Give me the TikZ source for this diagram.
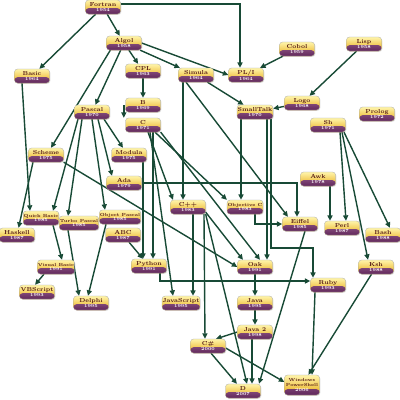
\documentclass[tikz,border=0pt]{standalone}
\usepackage{fontspec}
\usepackage{tikz}
\usetikzlibrary{
  arrows.meta,
  backgrounds,
  shadows
}
\definecolor{cream}{RGB}{255,244,170}
\definecolor{gold}{RGB}{232,172,24}
\definecolor{plum}{RGB}{122,48,112}
\definecolor{edgegreen}{RGB}{24,74,54}
\definecolor{namecol}{RGB}{82,24,20}
\newcommand{\yr}[1]{{\fontsize{4.5}{5}\selectfont\color{white}#1}}

\begin{document}
\begin{tikzpicture}[
  x=1pt, y=-1pt,
  lang/.style={draw=gray!70, line width=0.3pt, rounded corners=3pt,
               minimum width=35pt, minimum height=14pt, inner sep=0.5pt,
               align=center, top color=cream, bottom color=gold,
               text=namecol, font=\fontsize{5.8}{5.8}\selectfont\bfseries,
               path picture={\shade[top color=plum!70!white, bottom color=plum!80!black]
                 (path picture bounding box.south west) rectangle
                 ([yshift=5.8pt]path picture bounding box.south east);},
               drop shadow={opacity=0.25, shadow xshift=0.8pt, shadow yshift=-0.8pt}},
  longname/.style={font=\fontsize{4.4}{4.7}\selectfont\bfseries},
  conn/.style={draw=edgegreen, line width=1.4pt,
               -{Triangle[length=5.5pt, width=5pt]}}
]
\useasboundingbox (0,0) rectangle (400,400);

% languages
\node[lang] (fortran) at (103,7) {Fortran\\\yr{1954}};
\node[lang] (algol) at (124,43) {Algol\\\yr{1958}};
\node[lang] (basic) at (32,76) {Basic\\\yr{1964}};
\node[lang] (cpl) at (143,71) {CPL\\\yr{1963}};
\node[lang] (simula) at (196,75) {Simula\\\yr{1964}};
\node[lang] (pli) at (246,75) {PL/I\\\yr{1964}};
\node[lang] (cobol) at (297,49) {Cobol\\\yr{1959}};
\node[lang] (lisp) at (364,44) {Lisp\\\yr{1958}};
\node[lang] (logo) at (302,103) {Logo\\\yr{1968}};
\node[lang] (smalltalk) at (255,112) {SmallTalk\\\yr{1970}};
\node[lang] (prolog) at (377,114) {Prolog\\\yr{1972}};
\node[lang] (sh) at (328,125) {Sh\\\yr{1971}};
\node[lang] (pascal) at (92,112) {Pascal\\\yr{1970}};
\node[lang] (b) at (143,105) {B\\\yr{1969}};
\node[lang] (c) at (143,125) {C\\\yr{1971}};
\node[lang] (modula) at (129,155) {Modula\\\yr{1975}};
\node[lang] (ada) at (124,183) {Ada\\\yr{1979}};
\node[lang] (scheme) at (46,155) {Scheme\\\yr{1975}};
\node[lang] (haskell) at (17,235) {Haskell\\\yr{1987}};
\node[lang, longname] (qbasic) at (41,218) {Quick Basic\\\yr{1985}};
\node[lang, longname] (tpascal) at (79,223) {Turbo Pascal\\\yr{1985}};
\node[lang, longname] (opascal) at (120,217) {Object Pascal\\\yr{1985}};
\node[lang] (abc) at (123,235) {ABC\\\yr{1987}};
\node[lang] (python) at (149,266) {Python\\\yr{1991}};
\node[lang] (cpp) at (188,207) {C++\\\yr{1983}};
\node[lang, longname] (objc) at (245,207) {Objective C\\\yr{1983}};
\node[lang] (oak) at (255,267) {Oak\\\yr{1991}};
\node[lang] (eiffel) at (300,224) {Eiffel\\\yr{1985}};
\node[lang] (awk) at (318,179) {Awk\\\yr{1978}};
\node[lang] (perl) at (342,228) {Perl\\\yr{1987}};
\node[lang] (bash) at (383,235) {Bash\\\yr{1988}};
\node[lang] (ksh) at (376,267) {Ksh\\\yr{1988}};
\node[lang] (ruby) at (328,285) {Ruby\\\yr{1993}};
\node[lang, longname] (vbasic) at (56,267) {Visual Basic\\\yr{1991}};
\node[lang] (vbscript) at (37,292) {VBScript\\\yr{1993}};
\node[lang] (delphi) at (91,303) {Delphi\\\yr{1995}};
\node[lang] (javascript) at (181,303) {JavaScript\\\yr{1995}};
\node[lang] (java) at (255,303) {Java\\\yr{1995}};
\node[lang] (javatwo) at (255,332) {Java 2\\\yr{1998}};
\node[lang] (csharp) at (208,346) {C\#\\\yr{2000}};
\node[lang] (d) at (243,391) {D\\\yr{2007}};
\node[lang, longname, minimum height=20pt] (pshell) at (302,385)
  {Windows\\PowerShell\\\yr{2006}};

% Arrows
\begin{scope}[on background layer]
\fill[white] (0,0) rectangle (400,400);
\draw[conn] (fortran) -- (algol);
\draw[conn] (fortran) -- (basic);
\draw[conn] ([yshift=3pt]fortran.east) -| ([xshift=-6pt]pli.north);
\draw[conn] (algol) -- (cpl);
\draw[conn] (algol) -- (simula);
\draw[conn] (algol.east) -- (pli.west);
\draw[conn] (algol) -- (pascal);
\draw[conn] ([xshift=4pt]algol.south west) -- ([xshift=5pt]scheme.north);
\draw[conn] (cobol) -- (pli);
\draw[conn] (lisp) -- (logo);
\draw[conn] (logo) -- (smalltalk);
\draw[conn] (simula) -- (smalltalk);
\draw[conn] ([xshift=-10pt]simula.south) -- ([xshift=-12pt]eiffel.north);
\draw[conn] ([xshift=-13pt]simula.south) -- ([xshift=-5pt]cpp.north);
\draw[conn] (cpl) -- (b);
\draw[conn] ([xshift=-1.5pt]b.west) -- ([xshift=-1.5pt]c.north west);
\draw[conn] ([xshift=5pt]c.south) -- ([xshift=-15pt]cpp.north);
\draw[conn] ([xshift=12pt]c.south) -- (objc.north west);
\draw[conn] ([xshift=10pt]c.south) -- ([xshift=4pt]python.north);
\draw[conn] (c.south east) -- ([xshift=5pt]oak.north);
\draw[conn] ([xshift=7pt]c.south) -- ([xshift=-8pt]javascript.north);
\draw[conn] ([xshift=14pt]modula.south) -- ([xshift=-6pt]python.north);
\draw[conn] (abc) -- (python);
\draw[conn] ([xshift=11pt]python.south) |- ([yshift=4pt]ruby.west);
\draw[conn] ([xshift=5pt]cpp.south) -- ([xshift=12pt]javascript.north);
\draw[conn] ([xshift=16pt]cpp.south) -- ([xshift=-3pt]csharp.north);
\draw[conn] (cpp.south east) -- ([xshift=4pt]d.north);
\draw[conn] ([yshift=2pt]cpp.south east) -- ([xshift=-12pt]oak.north);
\draw[conn] (scheme.south east) -- (oak.west);
\draw[conn] ([xshift=-13pt]scheme.south) -- (haskell);
\draw[conn] ([xshift=-14pt]smalltalk.south) -- ([xshift=-4pt]objc.north);
\draw[conn] ([xshift=12pt]smalltalk.south) -- ([xshift=12pt]oak.north);
\coordinate (stbend) at (271,248);
\draw[conn] ([xshift=16pt]smalltalk.south) -- (stbend) -| ([xshift=-15pt]ruby.north);
\draw[conn] (ada.east) -| ([xshift=-3pt]eiffel.north);
\draw[conn] ([xshift=10pt]objc.south) |- (eiffel.west);
\draw[conn] ([xshift=12pt]awk.south) -- ([xshift=-12pt]perl.north);
\draw[conn] ([xshift=12pt]sh.south) -- ([xshift=4pt]perl.north);
\draw[conn] ([xshift=16pt]sh.south) -- ([xshift=7pt]bash.north);
\draw[conn] ([xshift=14pt]sh.south) -- ([xshift=-8pt]ksh.north);
\draw[conn] (ksh) -- (pshell);
\draw[conn] ([xshift=-13pt]ruby.south) -- ([xshift=10pt]pshell.north);
\draw[conn] ([xshift=5pt]eiffel.south) -- ([xshift=16pt]d.north);
\draw[conn] (oak) -- (java);
\draw[conn] (java) -- (javatwo);
\draw[conn] (javatwo.west) -- ([xshift=8pt]csharp.north);
\draw[conn] ([xshift=-3pt]javatwo.south) -- ([xshift=9pt]d.north);
\draw[conn] ([xshift=3pt]csharp.south) -- ([xshift=-6pt]d.north);
\draw[conn] ([yshift=-2pt]csharp.east) -- ([yshift=3pt]pshell.west);
\draw[conn] ([xshift=-10pt]basic.south) -- ([xshift=-11pt]qbasic.north);
\draw[conn] ([xshift=-14pt]pascal.south) -- ([xshift=12pt]qbasic.north);
\draw[conn] ([xshift=-10pt]pascal.south) -- ([xshift=-11pt]tpascal.north);
\draw[conn] (pascal.south) -- ([xshift=-15pt]opascal.north);
\draw[conn] ([xshift=6pt]pascal.south) -- ([xshift=-12pt]ada.north);
\draw[conn] ([xshift=12pt]pascal.south) -- ([xshift=-6pt]modula.north);
\draw[conn] ([xshift=12pt]qbasic.south) -- ([xshift=6pt]vbasic.north);
\draw[conn] ([xshift=-12pt]vbasic.south) -- ([xshift=-2pt]vbscript.north);
\draw[conn] ([xshift=-11pt]tpascal.south) -- ([xshift=-12pt]delphi.north);
\draw[conn] ([xshift=-14pt]opascal.south) -- ([xshift=-3pt]delphi.north);
\end{scope}

\end{tikzpicture}
\end{document}
